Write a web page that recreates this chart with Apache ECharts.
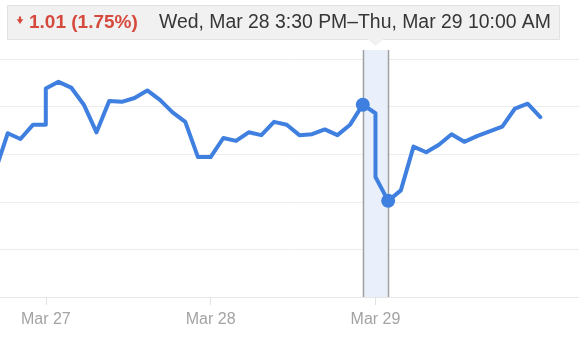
<!DOCTYPE html>
<html><head><meta charset="utf-8">
<script src="https://cdn.jsdelivr.net/npm/echarts@6/dist/echarts.min.js"></script>
<style>html,body{margin:0;padding:0;background:#fff;}#c{width:579px;height:338px;}</style>
</head><body><div id="c"></div>
<script>
// ---- data ----
const dayLabels = ['Mar 27', 'Mar 28', 'Mar 29'];
const dayTicks = [0, 13, 26];               // half-hour slot index of each day's open
const slotsPerDay = 13;                      // 9:30 AM -> 4:00 PM in 30-min steps
const mar26Tail = [56.82, 57.22, 57.16, 57.31, 57.31];          // 2:00 PM .. 4:00 PM
const mar26FirstSlot = 9;
const mar27 = [57.69, 57.76, 57.70, 57.52, 57.23, 57.56, 57.55, 57.59, 57.67, 57.57, 57.44, 57.34, 56.97, 56.97];
const mar28 = [56.97, 57.17, 57.14, 57.23, 57.20, 57.34, 57.31, 57.20, 57.21, 57.26, 57.20, 57.31, 57.52, 57.43];
const mar29 = [56.76, 56.51, 56.62, 57.08, 57.02, 57.10, 57.21, 57.13, 57.19, 57.24, 57.29, 57.48, 57.53, 57.39];
const selStart = { day: 1, slot: 12 };       // Wed, Mar 28 3:30 PM
const selEnd = { day: 2, slot: 1 };          // Thu, Mar 29 10:00 AM
const changeText = '1.01 (1.75%)';
const rangeText = 'Wed, Mar 28 3:30 PM\u2013Thu, Mar 29 10:00 AM';

// ---- build ----
function pts(arr, day, firstSlot) {
  return arr.map((v, i) => [day * slotsPerDay + firstSlot + i, v]);
}
const days = [mar27, mar28, mar29];
const lineData = [].concat(
  pts(mar26Tail, -1, mar26FirstSlot),
  pts(mar27, 0, 0), pts(mar28, 1, 0), pts(mar29, 2, 0)
);
const selX1 = selStart.day * slotsPerDay + selStart.slot;
const selX2 = selEnd.day * slotsPerDay + selEnd.slot;
const markers = [[selX1, days[selStart.day][selStart.slot]], [selX2, days[selEnd.day][selEnd.slot]]];

const BLUE = '#3f7fdf';
const RED = '#d6493d';
const chart = echarts.init(document.getElementById('c'), null, { renderer: 'canvas' });
const FONT = '"Liberation Sans", Arial, sans-serif';
chart.setOption({
  animation: false,
  grid: { left: 0, right: 0, top: 59, bottom: 41, containLabel: false },
  xAxis: {
    type: 'value', min: -3.612, max: 42.05,
    splitLine: { show: false },
    axisLine: { show: true, lineStyle: { color: '#e6e6e6', width: 1 } },
    axisTick: { show: true, customValues: dayTicks, length: 8, lineStyle: { color: '#e2e2e2' } },
    axisLabel: {
      show: true, customValues: dayTicks, margin: 15,
      color: '#a3a3a3', fontSize: 16, fontFamily: FONT,
      formatter: v => dayLabels[dayTicks.indexOf(Math.round(v))] || ''
    }
  },
  yAxis: {
    type: 'value', min: 55.5, max: 58.0, interval: 0.5,
    axisLabel: { show: false }, axisTick: { show: false }, axisLine: { show: false },
    splitLine: { show: true, lineStyle: { color: '#ececec', width: 1 } }
  },
  series: [
    {
      type: 'line', data: lineData, showSymbol: false, symbol: 'none', z: 3,
      lineStyle: { color: BLUE, width: 4, cap: 'round', join: 'round' }
    },
    {
      type: 'scatter', data: markers, symbolSize: 14, z: 4,
      itemStyle: { color: BLUE, opacity: 1 }
    }
  ]
});

const px1 = chart.convertToPixel({ xAxisIndex: 0 }, selX1);
const px2 = chart.convertToPixel({ xAxisIndex: 0 }, selX2);
const yBottom = chart.convertToPixel({ yAxisIndex: 0 }, 55.5);
const cx = (px1 + px2) / 2;
chart.setOption({
  graphic: [
    { type: 'rect', z: 1, shape: { x: px1, y: 50, width: px2 - px1, height: yBottom - 50 }, style: { fill: '#e9f0fb' } },
    { type: 'line', z: 2, shape: { x1: Math.round(px1) + 0.5, y1: 50, x2: Math.round(px1) + 0.5, y2: yBottom }, style: { stroke: '#a0a0a0', lineWidth: 1.5 } },
    { type: 'line', z: 2, shape: { x1: Math.round(px2) + 0.5, y1: 50, x2: Math.round(px2) + 0.5, y2: yBottom }, style: { stroke: '#a0a0a0', lineWidth: 1.5 } },
    { type: 'rect', z: 10, shape: { x: 7.5, y: 5.5, width: 552, height: 34 }, style: { fill: '#f1f1f1', stroke: '#e2e2e2', lineWidth: 1 } },
    { type: 'polygon', z: 10, shape: { points: [[cx - 8, 39], [cx + 8, 39], [cx, 46]] }, style: { fill: '#f1f1f1' } },
    { type: 'polygon', z: 11, shape: { points: [[18.9, 16.5], [21.1, 16.5], [21.1, 19.3], [23.3, 19.3], [20, 24], [16.7, 19.3], [18.9, 19.3]] }, style: { fill: RED } },
    { type: 'text', z: 11, x: 29, y: 23, style: { text: changeText, fill: RED, font: 'bold 19px ' + FONT, verticalAlign: 'middle' } },
    { type: 'text', z: 11, x: 159, y: 23, style: { text: rangeText, fill: '#363636', font: '19.4px ' + FONT, verticalAlign: 'middle' } }
  ]
});
</script>
</body></html>
